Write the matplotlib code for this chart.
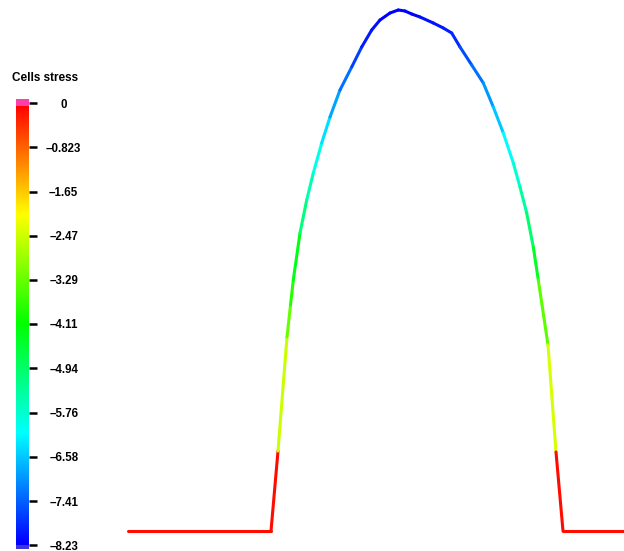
"""
Cell boundary profile coloured by per-cell stress, with a vertical colour legend.
Writes out.png.
"""
import colorsys

import matplotlib
matplotlib.use("Agg")
import matplotlib.pyplot as plt
import numpy as np
from matplotlib.collections import LineCollection
from matplotlib.colors import ListedColormap, Normalize
from matplotlib.patches import Rectangle

# profile nodes (horizontal position, height above the base line)
x_pos = [0, 143, 150, 159, 162.5, 165.3, 172, 178.7, 185.3, 193.7, 202, 212,
         223.7, 233.7, 243.7, 252, 262, 270.3, 277, 283.7, 292, 305.3, 315.3,
         323.7, 332, 343.7, 355.3, 365.3, 375.3, 385.3, 392, 398.7, 405.3,
         410.3, 420, 428, 435, 496]
height = [0, 0, 80, 194, 226, 251, 298, 331, 358, 388, 414, 441, 464, 484, 501,
          511, 518, 521, 520, 517, 514, 508, 503, 498, 484, 466, 448, 424, 398,
          368, 344, 318, 284, 251, 186, 79, 0, 0]

# stress of the cell between each pair of consecutive nodes
stress = [-0.1, -0.1, -2.5, -3.3, -3.8, -4.3, -5.1, -5.5, -6.0, -6.4,
          -6.9, -7.3, -7.7, -8.0, -8.1, -8.2, -8.23, -8.23, -8.2, -8.2,
          -8.1, -8.05, -8.0, -7.9, -7.6, -7.3, -7.0, -6.6, -6.2, -5.8,
          -5.4, -5.0, -4.4, -3.4, -2.4, -0.1, -0.1]

STRESS_MIN = -8.23
STRESS_MAX = 0.0
tick_values = [0, -0.823, -1.65, -2.47, -3.29, -4.11, -4.94, -5.76, -6.58, -7.41, -8.23]
tick_labels = ["0", "\u20130.823", "\u20131.65", "\u20132.47", "\u20133.29", "\u20134.11",
               "\u20134.94", "\u20135.76", "\u20136.58", "\u20137.41", "\u20138.23"]

# hue ramp: blue at the most negative stress, red at zero
hues = np.linspace(2 / 3, 0, 256)
cmap = ListedColormap([colorsys.hsv_to_rgb(h, 1, 1) for h in hues])
norm = Normalize(vmin=STRESS_MIN, vmax=STRESS_MAX)

plt.rcParams["font.family"] = ["Liberation Sans", "DejaVu Sans"]

W, H = 624, 551
fig = plt.figure(figsize=(W / 100, H / 100), dpi=100)

# profile
ax = fig.add_axes([128 / W, (H - 531) / H, 496 / W, 521 / H])
pts = np.column_stack([x_pos, height])
segs = np.stack([pts[:-1], pts[1:]], axis=1)
lc = LineCollection(segs, cmap=cmap, norm=norm, linewidths=2.2,
                    capstyle="round", joinstyle="round", clip_on=False)
lc.set_array(np.asarray(stress))
ax.add_collection(lc)
ax.set_xlim(0, 496)
ax.set_ylim(0, 521)
ax.axis("off")

# colour legend: gradient bar with a pink cap above zero
cb_lo, cb_hi = -8.30, 0.075
cax = fig.add_axes([16 / W, (H - 549) / H, 13 / W, 450 / H])
grad = np.linspace(STRESS_MIN, -0.06, 256).reshape(-1, 1)
cax.imshow(grad, cmap=cmap, norm=norm, origin="lower", aspect="auto",
           extent=[0, 1, STRESS_MIN, -0.06])
cax.add_patch(Rectangle((0, -0.06), 1, cb_hi + 0.06, color="#ff3fa8", lw=0))
cax.add_patch(Rectangle((0, cb_lo), 1, STRESS_MIN - cb_lo, color="#3f35d8", lw=0))
cax.set_xlim(0, 1)
cax.set_ylim(cb_lo, cb_hi)
for s in cax.spines.values():
    s.set_visible(False)
cax.set_xticks([])
cax.yaxis.tick_right()
cax.set_yticks(tick_values)
cax.set_yticklabels(tick_labels)
cax.tick_params(axis="y", length=6, width=1.8, color="black", pad=19,
                labelsize=8.3)
for lbl in cax.get_yticklabels():
    lbl.set_horizontalalignment("center")
    lbl.set_fontweight("bold")

fig.text(12 / W, 1 - 78 / H, "Cells stress", fontsize=8.5, fontweight="bold",
         va="center", ha="left")

fig.savefig("out.png", dpi=100)
